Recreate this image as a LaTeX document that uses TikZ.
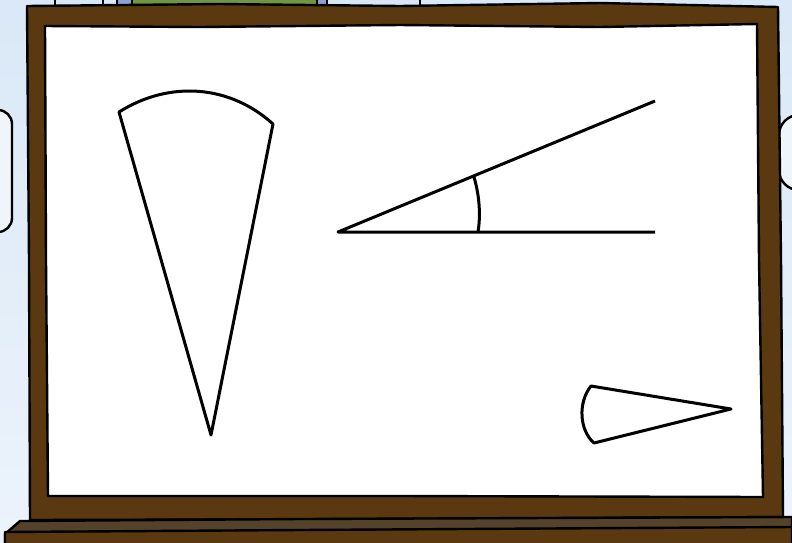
\documentclass[tikz,border=0pt]{standalone}
\usepackage{xcolor}
\usepackage{tikz}
\definecolor{nentroi}{RGB}{218,232,247}
\definecolor{nentroiduoi}{RGB}{236,243,251}
\definecolor{khungnau}{RGB}{90,56,16}
\definecolor{kenau}{RGB}{84,67,42}
\definecolor{laxanh}{RGB}{110,150,70}
\definecolor{chantim}{RGB}{140,160,215}
\definecolor{hopxanh}{RGB}{214,232,246}

\begin{document}
\begin{tikzpicture}[x=1pt, y=-1pt, line join=round,
  net/.style={line width=3pt, draw=black},
  vien/.style={line width=2.4pt, draw=black}]
  % 1. Nen va khung hinh
  \clip (0,0) rectangle (792,542);
  \shade[top color=nentroi, bottom color=nentroiduoi] (0,0) rectangle (792,542);

  % 2. Do vat phia sau bang
  \filldraw[fill=hopxanh, vien] (55,-10) rectangle (103,7);
  \filldraw[fill=chantim, vien] (117,-10) rectangle (132,7);
  \filldraw[fill=laxanh, vien] (132,-10) rectangle (317,7);
  \filldraw[fill=chantim, vien] (317,-10) rectangle (327,7);
  \filldraw[fill=hopxanh, vien] (327,-10) rectangle (420,7);
  \filldraw[fill=white!60!hopxanh, vien, rounded corners=14pt] (-30,110) rectangle (12,232);
  \filldraw[fill=white!60!hopxanh, vien, rounded corners=20pt] (779,115) rectangle (830,190);

  % 3. Khung go
  \filldraw[fill=khungnau, vien] (27,6) -- (220,4) -- (400,6) -- (600,3) -- (778,7)
    -- (781,260) -- (783,517) -- (400,519) -- (30,520) -- (29,260) -- cycle;
  \filldraw[fill=white, vien] (45,26) -- (200,27) -- (400,25) -- (600,27) -- (757,24)
    -- (759,260) -- (763,497) -- (400,496) -- (48,496) -- (46,260) -- cycle;

  % 4. Ke duoi
  \filldraw[fill=kenau, vien] (5,534) -- (20,521) -- (300,519) -- (792,517) -- (792,545) -- (5,545) -- cycle;
  \filldraw[fill=khungnau, vien] (5,532) -- (300,530) -- (792,527) -- (792,545) -- (5,545) -- cycle;

  % 5. Hinh quat lon
  \coordinate (qA) at (211,435);
  \coordinate (qL) at (119,112);
  \coordinate (qR) at (273,124);
  \draw[net] (qA) -- (qL) .. controls (170,80) and (230,85) .. (qR) -- cycle;

  % 6. Goc
  \coordinate (gO) at (338,232);
  \coordinate (gX) at (655,232);
  \coordinate (gY) at (655,101);
  \draw[net] (gX) -- (gO) -- (gY);
  \draw[net] (478,232) .. controls (481,214) and (479,194) .. (474,177);

  % 7. Hinh quat nho
  \coordinate (sA) at (731,409);
  \coordinate (sT) at (591,386);
  \coordinate (sB) at (594,443);
  \draw[net] (sA) -- (sT) .. controls (578,402) and (579,430) .. (sB) -- cycle;
\end{tikzpicture}
\end{document}
